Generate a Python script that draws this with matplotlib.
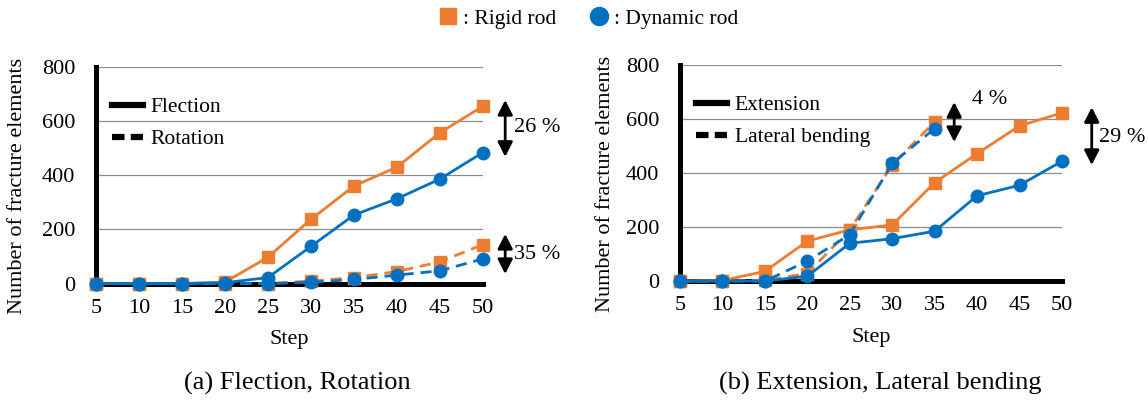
import numpy as np
import matplotlib.pyplot as plt
from matplotlib.lines import Line2D

plt.rcParams['font.family'] = ['Liberation Serif', 'DejaVu Serif']

steps = [5, 10, 15, 20, 25, 30, 35, 40, 45, 50]

# (a) Flection / Rotation
flection_rigid = [0, 0, 0, 5, 97, 237, 360, 430, 557, 655]
flection_dynamic = [0, 0, 0, 3, 22, 137, 253, 313, 386, 484]
rotation_rigid = [0, 0, 0, 0, 0, 9, 22, 44, 80, 144]
rotation_dynamic = [0, 0, 0, 0, 0, 4, 15, 31, 47, 91]

# (b) Extension / Lateral bending (lateral bending stops at step 35)
steps_lat = [5, 10, 15, 20, 25, 30, 35]
extension_rigid = [0, 2, 36, 148, 190, 208, 365, 472, 575, 623]
extension_dynamic = [0, 0, 0, 18, 140, 157, 185, 316, 355, 444]
lateral_rigid = [0, 0, 3, 28, 190, 430, 590]
lateral_dynamic = [0, 0, 0, 74, 172, 436, 565]

ORANGE = '#ED7D31'
BLUE = '#0070C0'


def setup_axes(ax, label_x):
    ax.set_xlim(5, 50)
    ax.set_ylim(0, 800)
    ax.set_xticks(steps)
    ax.set_yticks([0, 200, 400, 600, 800])
    ax.yaxis.grid(True, color='#8c8c8c', linewidth=0.9)
    ax.set_axisbelow(True)
    for s in ['top', 'right']:
        ax.spines[s].set_visible(False)
    ax.spines['left'].set_linewidth(3.6)
    ax.spines['bottom'].set_linewidth(3.6)
    ax.tick_params(length=0, labelsize=16, pad=11)
    ax.tick_params(axis='y', pad=15)
    ax.set_xlabel('Step', fontsize=16, labelpad=9)
    ax.set_ylabel('Number of fracture elements', fontsize=16)
    ax.yaxis.set_label_coords(label_x, 0.45)


def plot_pair(ax, x, rigid, dynamic, ls):
    dash = (4, 2.5) if ls == '--' else ()
    ax.plot(x, rigid, color=ORANGE, ls=ls, lw=2.0, marker='s', ms=8,
            zorder=3, clip_on=False, dashes=dash)
    ax.plot(x, dynamic, color=BLUE, ls=ls, lw=2.0, marker='o', ms=9,
            zorder=4, clip_on=False, dashes=dash)


def arrow(ax, x, y0, y1):
    ax.annotate('', xy=(x, y0), xytext=(x, y1), xycoords='data',
                annotation_clip=False,
                arrowprops=dict(arrowstyle='<|-|>,head_length=0.55,head_width=0.28',
                                color='black', lw=2.0,
                                mutation_scale=16, shrinkA=0, shrinkB=0))


def style_legend(ax, labels):
    handles = [Line2D([], [], color='black', lw=4.5),
               Line2D([], [], color='black', lw=4.5, ls=(0, (2, 1)))]
    leg = ax.legend(handles, labels, loc='upper left', bbox_to_anchor=(0.0, 0.935),
                    frameon=False, fontsize=15.5, handlelength=1.45,
                    handletextpad=0.35, labelspacing=0.55, borderaxespad=0.35)
    for t in leg.get_texts():
        t.set_bbox(dict(facecolor='white', edgecolor='none', pad=1))
    return leg


fig = plt.figure(figsize=(11.48, 4.01), dpi=100)
ax1 = fig.add_axes([0.0836, 0.293, 0.337, 0.540])
ax2 = fig.add_axes([0.5923, 0.299, 0.3328, 0.5387])

setup_axes(ax1, -0.178)
plot_pair(ax1, steps, flection_rigid, flection_dynamic, '-')
plot_pair(ax1, steps, rotation_rigid, rotation_dynamic, '--')
style_legend(ax1, ['Flection', 'Rotation'])
arrow(ax1, 52.6, 678, 468)
ax1.text(53.6, 575, '26 %', fontsize=16, va='center', ha='left')
arrow(ax1, 52.6, 183, 35)
ax1.text(53.6, 108, '35 %', fontsize=16, va='center', ha='left')

setup_axes(ax2, -0.17)
plot_pair(ax2, steps, extension_rigid, extension_dynamic, '-')
plot_pair(ax2, steps_lat, lateral_rigid, lateral_dynamic, '--')
style_legend(ax2, ['Extension', 'Lateral bending'])
arrow(ax2, 37.3, 663, 515)
ax2.text(41.5, 672, '4 %', fontsize=16, va='center', ha='center')
arrow(ax2, 53.5, 644, 430)
ax2.text(54.4, 533, '29 %', fontsize=16, va='center', ha='left')

fig.text(0.259, 0.043, '(a) Flection, Rotation', fontsize=19, ha='center', va='center')
fig.text(0.767, 0.043, '(b) Extension, Lateral bending', fontsize=19, ha='center', va='center')

top_handles = [Line2D([], [], color=ORANGE, marker='s', ls='none', ms=12),
               Line2D([], [], color=BLUE, marker='o', ls='none', ms=13)]
fig.legend(top_handles, [': Rigid rod', ': Dynamic rod'], loc='center',
           bbox_to_anchor=(0.512, 0.953), ncol=2, frameon=False, fontsize=15.5,
           handlelength=1.0, handletextpad=0.2, columnspacing=1.5)

fig.savefig('out.png', dpi=100)
